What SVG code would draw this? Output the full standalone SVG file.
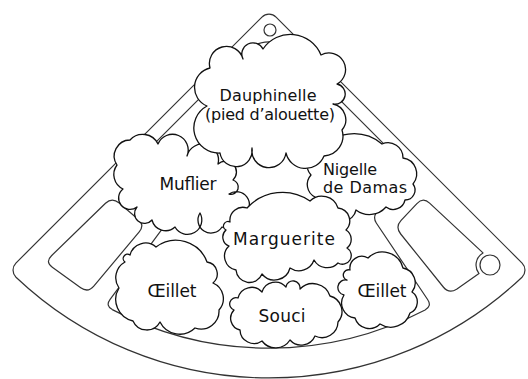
<svg xmlns="http://www.w3.org/2000/svg" width="528" height="379" viewBox="0 0 528 379">
<style>
.box{fill:none;stroke:#333;stroke-width:1.2;stroke-linejoin:round}
.outer{fill:#fff;stroke:#333;stroke-width:1.2}
.cloud{fill:#fff;stroke:#111;stroke-width:1.3;stroke-linejoin:round}
.lbl{font-family:'DejaVu Sans',sans-serif;font-size:17px;fill:#111;text-anchor:middle}
.sm{font-size:16px}
.st{text-anchor:start}
</style>
<rect width="528" height="379" fill="#fff"/>
<g id="planter">
<path class="outer" d="M261.93,17.07 A10 10 0 0 1 276.07,17.07 L522.1,263.1 A10 10 0 0 1 522,277.2 A368 368 0 0 1 16,277.2 A10 10 0 0 1 15.9,263.1 Z"/>
<path class="box" d="M247.08,50.92 A31 31 0 0 1 290.92,50.92 L400.8,160.8 Q405,165 401.9,170.1 L376.1,212.9 Q373,218 376.3,223 L427.6,299.5 Q432.1,306.1 425.1,310 A338 338 0 0 1 112.3,309.6 Q105.3,305.7 110.1,299.3 L170.4,217.8 Q174,213 170.1,208.4 L136.9,169.6 Q133,165 137.2,160.8 Z"/>
<path class="box" d="M118.9,202.8 L138.1,219.2 Q145,225 139.2,231.9 L93.8,286.1 Q88,293 80.7,287.7 L52.3,267.3 Q45,262 51.5,255.7 L105.5,203.3 Q112,197 118.9,202.8 Z"/>
<path class="box" d="M429.6,203.1 L483,252.9 A14 14 0 0 0 479,273.6 L456.6,289.2 Q449,294 443.3,287 L400.7,234 Q395,227 401.1,220.4 L416.9,203.6 Q423,197 429.6,203.1 Z"/>
<circle class="box" cx="270" cy="30" r="6"/>
<circle class="box" cx="490" cy="265" r="10"/>
</g>
<g id="connectors"/>
<g id="muflier">
<path class="cloud" d="M117,165 A16 16 0 0 1 130,140 A17 17 0 0 1 158,144 A1 1 0 0 1 187,156 A1 1 0 0 1 218,164 A1 1 0 0 1 233,180 A1 1 0 0 1 229,194 A1 1 0 0 1 244,215 A15 15 0 0 1 222,227 A1 1 0 0 1 200,213 A1 1 0 0 1 175,227 A14 14 0 0 1 152,220 A1 1 0 0 1 137,207 A1 1 0 0 1 123,189 A16 16 0 0 1 117,165 Z"/>
<text class="lbl" x="188" y="190" textLength="57">Muflier</text>
</g>
<g id="nigelle">
<path class="cloud" d="M318,152 A44 44 0 0 1 382,144 A15 15 0 0 1 403,158 A16 16 0 0 1 413,184 A10 10 0 0 1 405,200 A12 12 0 0 1 386,207 A22 22 0 0 1 356,210 A14 14 0 0 1 330,214 A14 14 0 0 1 315,197 A14 14 0 0 1 311,175 A14 14 0 0 1 318,152 Z"/>
<text class="lbl st sm" x="323" y="175" textLength="54">Nigelle</text>
<text class="lbl st sm" x="323" y="193" textLength="84">de Damas</text>
</g>
<g id="dauphinelle">
<path class="cloud" d="M210,68 A1 1 0 0 1 243,59 A1 1 0 0 1 263,49 A33 33 0 0 1 321,55 A1 1 0 0 1 337,84 A1 1 0 0 1 333,104 A16 16 0 0 1 342,130 A20 20 0 0 1 324,156 A20 20 0 0 1 286,153 A1 1 0 0 1 252,148 A1 1 0 0 1 220,153 A25 25 0 0 1 207,106 A20 20 0 0 1 210,68 Z"/>
<text class="lbl sm" x="268" y="101" textLength="97">Dauphinelle</text>
<text class="lbl sm" x="270" y="120" textLength="130">(pied d’alouette)</text>
</g>
<g id="marguerite">
<path class="cloud" d="M230,222 A13 13 0 0 1 247,208 A48 48 0 0 1 310,201 A17 17 0 0 1 338,208 A13 13 0 0 1 346,230 A11 11 0 0 1 347,248 A1 1 0 0 1 338,263 A15 15 0 0 1 314,260 A16 16 0 0 1 290,268 A16 16 0 0 1 262,274 A13.5 13.5 0 0 1 236,270 A14 14 0 0 1 229,246 A9.5 9.5 0 0 1 226,230 A1 1 0 0 1 230,222 Z"/>
<text class="lbl" x="284" y="245" textLength="102">Marguerite</text>
</g>
<g id="oeillet-gauche">
<path class="cloud" d="M130,255 A16 16 0 0 1 156,247 A33 33 0 0 1 207,262 A12 12 0 0 1 213,283 A17 17 0 0 1 219,310 A18 18 0 0 1 195,328 A22 22 0 0 1 160,322 A15 15 0 0 1 133,321 A22 22 0 0 1 119,288 A18 18 0 0 1 125,262 A1 1 0 0 1 130,255 Z"/>
<text class="lbl" x="172" y="297" textLength="49">Œillet</text>
</g>
<g id="souci">
<path class="cloud" d="M238,298 A14 14 0 0 1 262,292 A14 14 0 0 1 286,287 A1 1 0 0 1 300,289 A18 18 0 0 1 330,296 A16 16 0 0 1 338,322 A16 16 0 0 1 315,336 A15 15 0 0 1 290,340 A17 17 0 0 1 262,341 A14 14 0 0 1 240,330 A12 12 0 0 1 234,310 A1 1 0 0 1 238,298 Z"/>
<text class="lbl" x="282" y="322" textLength="47">Souci</text>
</g>
<g id="oeillet-droit">
<path class="cloud" d="M350,270 A12 12 0 0 1 368,258 A21 21 0 0 1 403,268 A15 15 0 0 1 412,292 A12 12 0 0 1 410,313 A20 20 0 0 1 380,324 A15 15 0 0 1 355,318 A15 15 0 0 1 344,295 A1 1 0 0 1 347,280 A1 1 0 0 1 350,270 Z"/>
<text class="lbl" x="382" y="297" textLength="49">Œillet</text>
</g>
</svg>
